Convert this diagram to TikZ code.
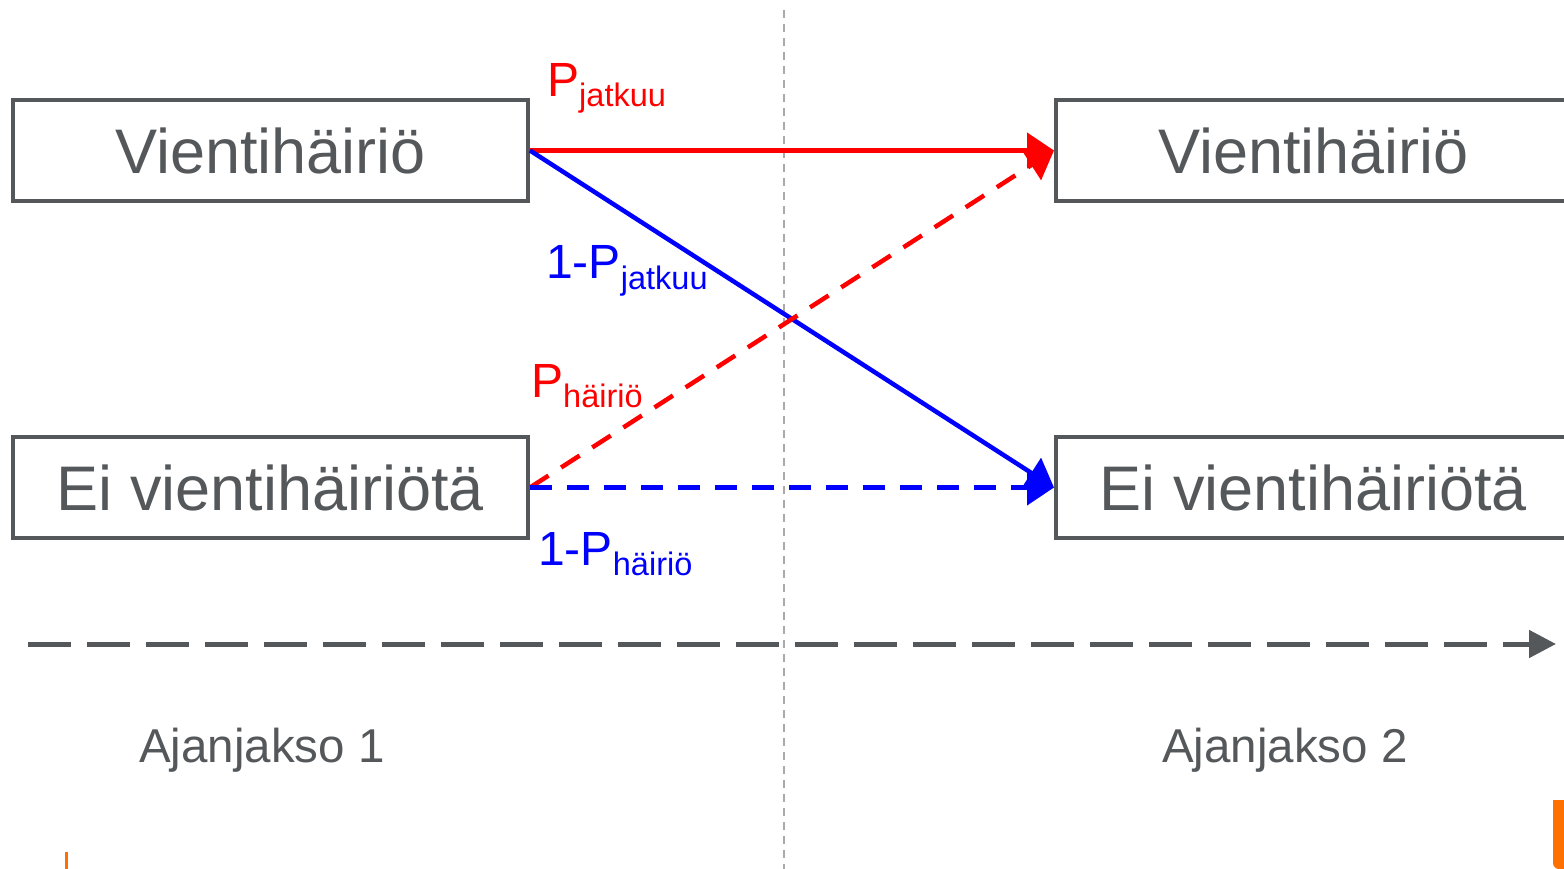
\documentclass[tikz,border=0pt]{standalone}
\usepackage{fontspec}
\setmainfont{Liberation Sans}
\usepackage{tikz}
\usetikzlibrary{arrows.meta}
\definecolor{mgray}{RGB}{85, 88, 90}
\definecolor{mred}{RGB}{255, 0, 0}
\definecolor{mblue}{RGB}{0, 0, 255}
\definecolor{mgrid}{RGB}{170, 170, 170}
\definecolor{morange}{RGB}{255, 112, 0}
\newcommand{\lowsub}[1]{\raisebox{-10pt}{\fontsize{32.5}{32.5}\selectfont #1}}
\tikzset{statebox/.style = {draw=mgray, line width=4pt, minimum width=515pt,
                            minimum height=101pt, inner sep=0pt, text=mgray,
                            font=\fontsize{63}{63}\selectfont},
         problabel/.style = {anchor=base west, inner sep=0pt,
                             font=\fontsize{48}{48}\selectfont},
         periodlabel/.style = {anchor=base west, inner sep=0pt, text=mgray,
                               font=\fontsize{47.5}{47.5}\selectfont},
         transition/.style = {line width=4.5pt, -{Triangle[length=27pt, width=35pt]}},
         dashline/.style = {dash pattern=on 22pt off 15pt}}

\begin{document}
\begin{tikzpicture}[x=1pt, y=-1pt]
    \useasboundingbox (0, 0) rectangle (1564, 869);
    \draw [mgrid, line width=2pt, dash pattern=on 8pt off 6pt] (784, 10) -- (784, 869);

    \node [statebox] (hairio1) at (270.5, 150.5) {Vientihäiriö};
    \node [statebox] (eihairio1) at (270.5, 487.5) {Ei vientihäiriötä};
    \node [statebox] (hairio2) at (1313.5, 150.5) {Vientihäiriö};
    \node [statebox] (eihairio2) at (1313.5, 487.5) {Ei vientihäiriötä};

    \draw [transition, mred] (hairio1.east) -- (hairio2.west);
    \draw [transition, mblue] (hairio1.east) -- (eihairio2.west);
    \draw [transition, mred, dashline] (eihairio1.east) -- (hairio2.west);
    \draw [transition, mblue, dashline] (eihairio1.east) -- (eihairio2.west);

    \node [problabel, mred] (pjat) at (547, 97) {P\lowsub{jatkuu}};
    \node [problabel, mblue] (qjat) at (546, 279) {1-P\lowsub{jatkuu}};
    \node [problabel, mred] (phai) at (531, 397) {P\lowsub{häiriö}};
    \node [problabel, mblue] (qhai) at (538, 565) {1-P\lowsub{häiriö}};

    \coordinate (t0) at (28, 644);
    \coordinate (t1) at (1556, 644);
    \draw [mgray, line width=5pt, dash pattern=on 43pt off 16pt,
           -{Triangle[length=27pt, width=27pt]}] (t0) -- (t1);
    \node [periodlabel] (jakso1) at (139, 762) {Ajanjakso 1};
    \node [periodlabel] (jakso2) at (1162, 762) {Ajanjakso 2};

    \fill [morange] (1570, 800) -- (1553, 800) [rounded corners=6pt] -- (1553, 869) -- (1570, 869);
    \fill [morange] (65, 852) rectangle (68, 869);
  \end{tikzpicture}
\end{document}
